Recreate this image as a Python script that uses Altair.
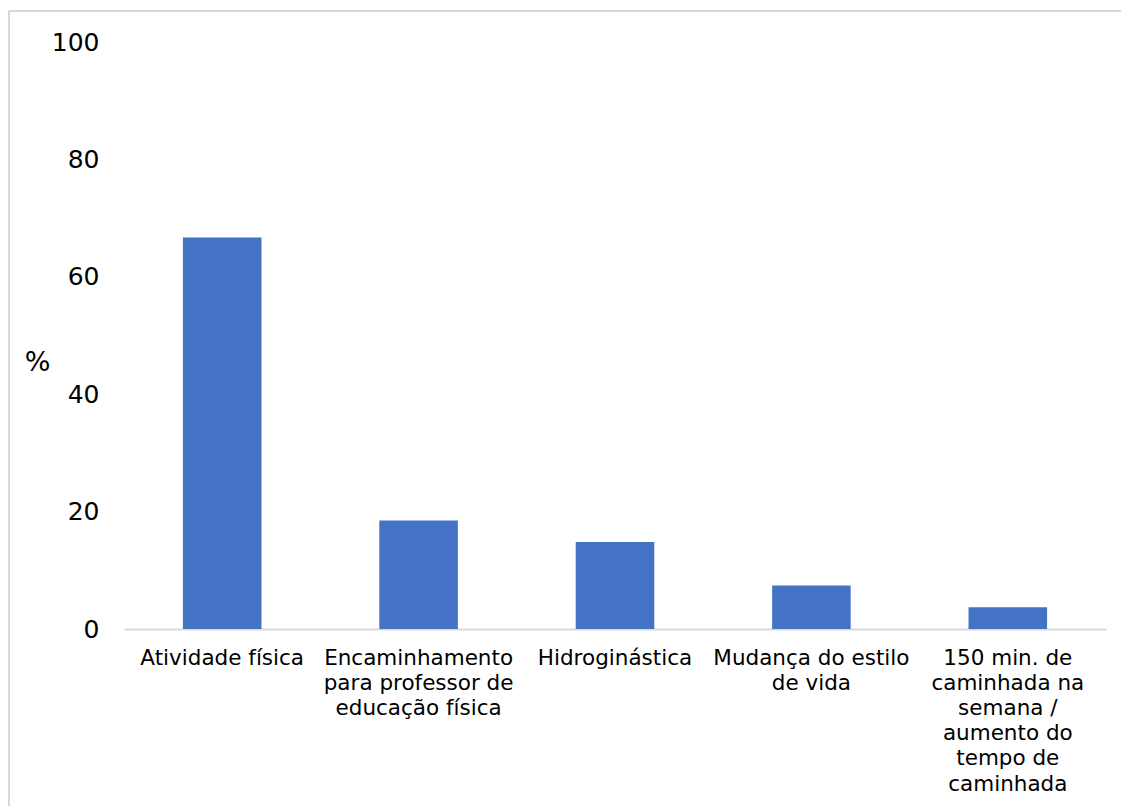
import altair as alt
import pandas as pd

categories = [
    "Atividade física",
    "Encaminhamento para professor de educação física",
    "Hidroginástica",
    "Mudança do estilo de vida",
    "150 min. de caminhada na semana / aumento do tempo de caminhada",
]
label_lines = [
    "Atividade física",
    "Encaminhamento|para professor de|educação física",
    "Hidroginástica",
    "Mudança do estilo|de vida",
    "150 min. de|caminhada na|semana /|aumento do|tempo de|caminhada",
]
values = [66.7, 18.5, 14.8, 7.4, 3.7]
y_ticks = [0, 20, 40, 60, 80, 100]

df = pd.DataFrame({"cat": label_lines, "pct": values})

FONT = "DejaVu Sans"
GRAY = "#d9d9d9"

bars = alt.Chart(df).mark_bar(color="#4472C4").encode(
    x=alt.X(
        "cat:N",
        sort=label_lines,
        scale=alt.Scale(paddingInner=0.6, paddingOuter=0.3),
        axis=alt.Axis(
            title=None,
            labelAngle=0,
            labelExpr="split(datum.label, '|')",
            labelFont=FONT,
            labelFontSize=21.5,
            labelColor="#000000",
            labelLineHeight=25.2,
            labelPadding=18,
            labelLimit=400,
            ticks=False,
            domainColor=GRAY,
            domainWidth=2,
        ),
    ),
    y=alt.Y(
        "pct:Q",
        scale=alt.Scale(domain=[0, 100], nice=False),
        axis=alt.Axis(
            values=y_ticks,
            title="%",
            titleAngle=0,
            titleFont=FONT,
            titleFontSize=27,
            titleFontWeight="normal",
            titleColor="#000000",
            titleX=-87,
            titleY=320,
            titleAlign="center",
            titleBaseline="middle",
            labelFont=FONT,
            labelFontSize=25,
            labelColor="#000000",
            labelPadding=25,
            ticks=False,
            domain=False,
            grid=False,
        ),
    ),
)

border_left = alt.Chart(df).mark_rule(color=GRAY, strokeWidth=2).encode(
    x=alt.value(-115), y=alt.value(-31), y2=alt.value(900)
)
border_top = alt.Chart(df).mark_rule(color=GRAY, strokeWidth=2).encode(
    y=alt.value(-31), x=alt.value(-115), x2=alt.value(1200)
)

chart = alt.layer(border_left, border_top, bars).properties(
    width=982,
    height=587,
    autosize=alt.AutoSizeParams(type="none"),
    padding={"left": 124, "top": 42, "right": 15, "bottom": 177},
    background="white",
).configure_view(stroke=None)

chart.save("out.html", embed_options={"renderer": "svg", "actions": False})
